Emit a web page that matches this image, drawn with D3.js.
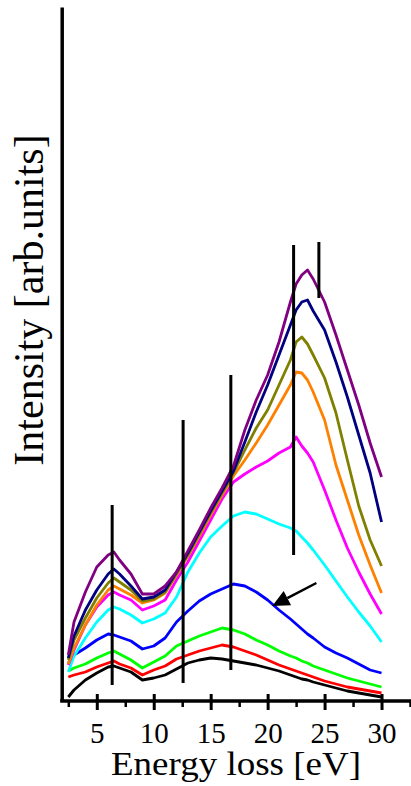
<!DOCTYPE html>
<html>
<head>
<meta charset="utf-8">
<script src="https://cdn.jsdelivr.net/npm/d3@7"></script>
<style>
  html, body { margin: 0; padding: 0; background: #fff; }
  svg { display: block; }
  text { font-family: "Liberation Serif", "Times New Roman", serif; fill: #000; }
</style>
</head>
<body>
<svg id="chart" width="411" height="786"></svg>
<script>
// ---- data (intensity in arbitrary units) ----
const energy = [2.5, 3, 4, 5, 6, 6.5, 7, 8, 9, 10, 11, 12, 13, 14, 15, 16, 17, 18, 19, 20, 21, 22, 22.5, 23, 23.5, 24, 25, 26, 27, 28, 29, 30];

const sBlack   = [0.4, 1.1, 2.1, 2.8, 3.4, 3.5, 3.3, 2.9, 2.1, 2.3, 2.6, 3.2, 3.8, 4.1, 4.3, 4.2, 4.0, 3.8, 3.6, 3.3, 3.0, 2.6, 2.4, 2.2, 2.1, 1.9, 1.6, 1.3, 1.0, 0.8, 0.6, 0.4];
const sRed     = [2.4, 2.6, 2.9, 3.4, 3.8, 4.0, 3.7, 3.3, 2.6, 3.1, 3.5, 4.2, 4.6, 5.0, 5.3, 5.6, 5.4, 5.0, 4.6, 4.1, 3.6, 3.2, 3.0, 2.8, 2.6, 2.4, 2.0, 1.7, 1.4, 1.2, 1.0, 0.8];
const sGreen   = [3.0, 3.3, 3.7, 4.3, 4.8, 5.0, 4.7, 4.1, 3.3, 3.9, 4.5, 5.5, 6.0, 6.5, 6.9, 7.3, 7.1, 6.7, 6.1, 5.6, 5.0, 4.5, 4.3, 4.0, 3.8, 3.5, 3.1, 2.7, 2.3, 2.0, 1.7, 1.4];
const sBlue    = [3.8, 4.6, 5.3, 6.1, 6.7, 6.6, 6.4, 6.0, 5.2, 5.5, 6.3, 7.9, 9.0, 10.0, 10.7, 11.2, 11.7, 11.5, 10.9, 10.1, 9.1, 8.2, 7.7, 7.2, 6.7, 6.3, 5.4, 4.8, 4.3, 3.7, 3.1, 2.8];
const sCyan    = [2.9, 4.5, 6.3, 7.9, 9.1, 9.4, 9.2, 8.6, 7.8, 8.2, 8.8, 10.4, 12.9, 14.8, 16.4, 17.5, 18.5, 18.9, 18.7, 18.2, 17.7, 17.3, 17.0, 16.4, 15.8, 15.1, 13.6, 12.0, 10.4, 8.9, 7.5, 5.9];
const sMagenta = [3.6, 5.1, 7.6, 9.4, 10.6, 10.9, 10.6, 10.1, 9.1, 9.5, 10.1, 12.1, 13.9, 16.0, 18.1, 20.2, 21.9, 22.7, 23.4, 24.0, 24.8, 25.4, 26.4, 25.5, 24.8, 23.9, 21.1, 18.1, 15.3, 12.9, 10.7, 8.7];
const sOrange  = [3.7, 5.3, 7.6, 9.6, 11.1, 11.5, 11.2, 10.6, 9.8, 10.1, 10.8, 12.6, 14.5, 16.5, 18.6, 20.6, 22.5, 24.1, 25.8, 27.6, 29.6, 31.6, 32.9, 32.8, 32.1, 30.9, 28.1, 23.6, 20.1, 16.6, 13.6, 10.8];
const sOlive   = [4.1, 6.1, 8.3, 10.3, 11.8, 12.3, 11.9, 11.1, 10.0, 10.2, 10.9, 12.7, 14.6, 16.7, 18.8, 20.8, 22.8, 25.1, 27.3, 29.1, 31.6, 34.1, 35.9, 36.4, 35.7, 34.6, 32.3, 28.8, 24.1, 19.5, 16.1, 13.5];
const sNavy    = [4.3, 6.5, 9.1, 11.1, 12.7, 13.2, 12.7, 11.5, 10.2, 10.4, 11.1, 12.9, 14.8, 16.9, 19.0, 21.0, 23.0, 25.9, 28.9, 31.6, 34.6, 37.6, 39.1, 39.9, 40.1, 39.0, 37.1, 33.9, 30.4, 26.6, 22.8, 17.9];
const sPurple  = [4.6, 7.9, 10.9, 13.4, 14.6, 14.9, 14.1, 12.7, 10.7, 10.7, 11.5, 12.9, 15.0, 17.1, 19.3, 21.3, 23.5, 27.1, 30.1, 32.6, 35.9, 39.9, 41.7, 42.6, 43.1, 42.2, 39.9, 36.6, 33.1, 29.6, 25.8, 22.4];

const seriesNames  = ["black", "red", "green", "blue", "cyan", "magenta", "orange", "olive", "navy", "purple"];
const seriesValues = [sBlack, sRed, sGreen, sBlue, sCyan, sMagenta, sOrange, sOlive, sNavy, sPurple];
const seriesColors = ["#000000", "#ff0000", "#00ff00", "#0000ff", "#00ffff", "#ff00ff", "#ff8000", "#808000", "#000080", "#800080"];

// vertical marker lines: energy, bottom, top
const markerEnergy = [6.35, 12.58, 16.77, 22.28, 24.5];
const markerBottom = [1.6, 1.8, 3.1, 14.6, 40.3];
const markerTop    = [19.6, 28.1, 32.6, 45.6, 45.9];

// arrow (tail -> head)
const arrowTail = [24.28, 11.8];
const arrowHead = [20.41, 9.5];

const xMajorTicks = [5, 10, 15, 20, 25, 30];
const xMinorTicks = [2.5, 7.5, 12.5, 17.5, 22.5, 27.5, 32.5];
const xTitle = "Energy loss [eV]";
const yTitle = "Intensity [arb.units]";

// ---- drawing ----
const svg = d3.select("#chart");
const x = d3.scaleLinear().domain([1.92, 32.5]).range([61.7, 410]);
const y = d3.scaleLinear().domain([0, 69.4]).range([701, 7]);

const line = d3.line().x(d => x(d[0])).y(d => y(d[1]));

// curves
const gCurves = svg.append("g");
seriesValues.forEach((vals, i) => {
  const pts = energy.map((e, j) => [e, vals[j]]);
  gCurves.append("path")
    .datum(pts)
    .attr("fill", "none")
    .attr("stroke", seriesColors[i])
    .attr("stroke-width", 2.8)
    .attr("stroke-linejoin", "round")
    .attr("d", line);
});

// vertical markers
svg.append("g").selectAll("line")
  .data(markerEnergy)
  .join("line")
  .attr("x1", d => x(d)).attr("x2", d => x(d))
  .attr("y1", (d, i) => y(markerBottom[i]))
  .attr("y2", (d, i) => y(markerTop[i]))
  .attr("stroke", "#000")
  .attr("stroke-width", 3);

// arrow
const ax1 = x(arrowTail[0]), ay1 = y(arrowTail[1]);
const ax2 = x(arrowHead[0]), ay2 = y(arrowHead[1]);
const ang = Math.atan2(ay2 - ay1, ax2 - ax1);
const headLen = 17, headW = 8;
const bx = ax2 - headLen * Math.cos(ang), by = ay2 - headLen * Math.sin(ang);
svg.append("line")
  .attr("x1", ax1).attr("y1", ay1).attr("x2", bx).attr("y2", by)
  .attr("stroke", "#000").attr("stroke-width", 2.5);
svg.append("path")
  .attr("d", `M${ax2},${ay2} L${bx + headW * Math.sin(ang)},${by - headW * Math.cos(ang)} L${bx - headW * Math.sin(ang)},${by + headW * Math.cos(ang)} Z`)
  .attr("fill", "#000");

// x axis (major ticks crossing the axis line)
const gx = svg.append("g").attr("transform", `translate(0,${y(0)})`)
  .call(d3.axisBottom(x).tickValues(xMajorTicks).tickSize(9).tickSizeOuter(0).tickFormat(d3.format("d")));
gx.select(".domain").remove();
gx.selectAll(".tick line").attr("y1", -7).attr("y2", 9).attr("stroke", "#000").attr("stroke-width", 3);
gx.selectAll(".tick text").attr("y", 42).attr("dy", 0)
  .style("font-family", '"Liberation Serif", "Times New Roman", serif')
  .style("font-size", "29px").attr("fill", "#000");

const gxm = svg.append("g").attr("transform", `translate(0,${y(0)})`)
  .call(d3.axisBottom(x).tickValues(xMinorTicks).tickSize(6).tickSizeOuter(0).tickFormat(""));
gxm.select(".domain").remove();
gxm.selectAll(".tick line").attr("stroke", "#000").attr("stroke-width", 2.5);

svg.append("line")
  .attr("x1", x.range()[0] - 1.5).attr("x2", 411)
  .attr("y1", y(0)).attr("y2", y(0))
  .attr("stroke", "#000").attr("stroke-width", 3.5);

// y axis (line only)
const gy = svg.append("g").attr("transform", `translate(${x.range()[0]},0)`)
  .call(d3.axisLeft(y).tickValues([]).tickSizeOuter(0));
gy.select(".domain").attr("stroke", "#000").attr("stroke-width", 3.5);

// titles
svg.append("text")
  .attr("x", 236).attr("y", 775)
  .attr("text-anchor", "middle")
  .attr("textLength", 250).attr("lengthAdjust", "spacingAndGlyphs")
  .style("font-size", "33px")
  .text(xTitle);

svg.append("text")
  .attr("transform", "translate(43,300) rotate(-90)")
  .attr("text-anchor", "middle")
  .style("font-size", "42px")
  .text(yTitle);
</script>
</body>
</html>
